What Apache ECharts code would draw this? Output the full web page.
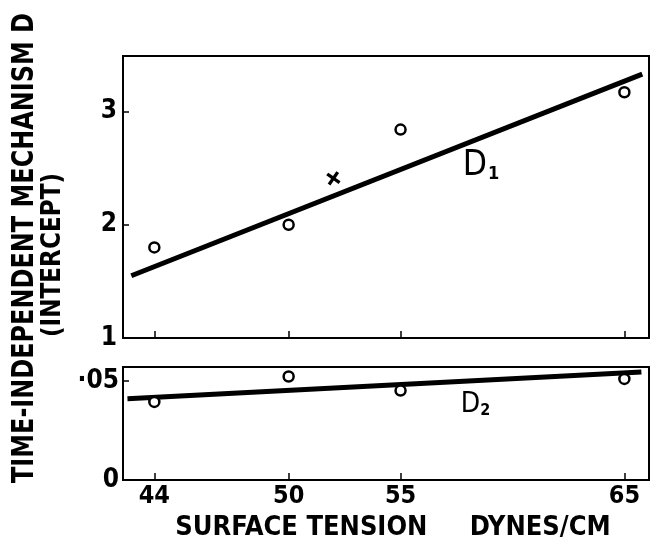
<!DOCTYPE html>
<html>
<head>
<meta charset="utf-8">
<script src="https://cdn.jsdelivr.net/npm/echarts@6/dist/echarts.min.js"></script>
<style>html,body{margin:0;padding:0;background:#fff}#c{width:652px;height:537px}</style>
</head>
<body>
<div id="c"></div>
<script>
// ---- data ----
const tension = [44, 50, 55, 65];              // surface tension, dynes/cm
const d1Points = [1.80, 2.00, 2.84, 3.17];      // D1 (circles)
const crossX = [52];                            // extra D1 point (x marker)
const crossY = [2.41];
const d1FitX = [42.97, 65.8];                   // fitted D1 line end points
const d1FitY = [1.55, 3.33];
const d2Points = [0.0394, 0.0522, 0.0451, 0.051]; // D2 (circles)
const d2FitX = [42.8, 65.76];
const d2FitY = [0.041, 0.0545];
const xTicks = [44, 50, 55, 65];
const xTickLabels = ['44', '50', '55', '65'];
const y1Ticks = [1, 2, 3];
const y1TickLabels = ['1', '2', '3'];
const y2Ticks = [0, 0.05];
const y2TickLabels = ['0', '\u00b705'];
const labelD1 = {x: 58.6, y: 2.52};
const labelD2 = {x: 58.35, y: 0.0379};
const yTitle = 'TIME-INDEPENDENT MECHANISM D';
const ySubTitle = '(INTERCEPT)';
const xTitle = 'SURFACE TENSION     DYNES/CM';

const FONT = '"DejaVu Sans Condensed","Liberation Sans Narrow","DejaVu Sans",sans-serif';
const chart = echarts.init(document.getElementById('c'), null, {renderer: 'canvas'});

function pairs(xs, ys) { return xs.map((x, i) => [x, ys[i]]); }
function labelFor(ticks, labels) {
  return v => { const i = ticks.findIndex(t => Math.abs(t - v) < 1e-9); return i >= 0 ? labels[i] : ''; };
}
function textWidth(txt, font) {
  const ctx = document.createElement('canvas').getContext('2d');
  ctx.font = font; return ctx.measureText(txt).width;
}
const titleFont = 'bold 31px ' + FONT;
const titleScale = 470 / textWidth(yTitle, titleFont);
const subFont = 'bold 26px ' + FONT;
const subScale = 164 / textWidth(ySubTitle, subFont);

const crossPath = 'path://M0,1.8 L1.8,0 L5,3.2 L8.2,0 L10,1.8 L6.8,5 L10,8.2 L8.2,10 L5,6.8 L1.8,10 L0,8.2 L3.2,5 Z';

const xCommon = {
  type: 'value', min: 42.6, max: 66.1,
  splitLine: {show: false},
  axisLine: {show: true, lineStyle: {color: '#000', width: 2}},
  axisTick: {show: true, inside: true, length: 7, customValues: xTicks, lineStyle: {color: '#000', width: 1.5}},
};
const yCommon = {
  type: 'value', splitLine: {show: false},
  axisLine: {show: true, lineStyle: {color: '#000', width: 2}},
};
const yLabelStyle = {color: '#000', fontFamily: FONT, fontWeight: 'bold', fontSize: 26, padding: [0, 0, 10, 0]};

chart.setOption({
  animation: false,
  backgroundColor: '#fff',
  grid: [
    {left: 123, right: 3, top: 56, height: 282, show: true, borderColor: '#000', borderWidth: 2,
      containLabel: false, outerBoundsMode: 'none'},
    {left: 123, right: 3, top: 367, height: 113, show: true, borderColor: '#000', borderWidth: 2,
      containLabel: false, outerBoundsMode: 'none'}
  ],
  xAxis: [
    Object.assign({}, xCommon, {gridIndex: 0, axisLabel: {show: false}}),
    Object.assign({}, xCommon, {
      gridIndex: 1,
      axisLabel: {show: true, customValues: xTicks, formatter: labelFor(xTicks, xTickLabels), margin: 4,
        color: '#000', fontFamily: FONT, fontWeight: 'bold', fontSize: 25},
      name: xTitle, nameLocation: 'middle', nameGap: 34,
      nameTextStyle: {color: '#000', fontFamily: FONT, fontWeight: 'bold', fontSize: 27, padding: [0, 0, 0, 14]}
    })
  ],
  yAxis: [
    Object.assign({}, yCommon, {
      gridIndex: 0, min: 1, max: 3.49,
      axisTick: {show: true, inside: true, length: 6, customValues: y1Ticks, lineStyle: {color: '#000', width: 1.5}},
      axisLabel: Object.assign({customValues: y1Ticks, formatter: labelFor(y1Ticks, y1TickLabels), margin: 6}, yLabelStyle)
    }),
    Object.assign({}, yCommon, {
      gridIndex: 1, min: 0, max: 0.057,
      axisTick: {show: true, inside: true, length: 6, customValues: y2Ticks, lineStyle: {color: '#000', width: 1.5}},
      axisLabel: Object.assign({customValues: y2Ticks, formatter: labelFor(y2Ticks, y2TickLabels), margin: 4}, yLabelStyle)
    })
  ],
  series: [
    {type: 'line', xAxisIndex: 0, yAxisIndex: 0, data: pairs(d1FitX, d1FitY), showSymbol: false,
      lineStyle: {color: '#000', width: 5}, z: 2},
    {type: 'scatter', xAxisIndex: 0, yAxisIndex: 0, data: pairs(tension, d1Points), symbol: 'circle', symbolSize: 10,
      itemStyle: {color: '#fff', borderColor: '#000', borderWidth: 2.5, opacity: 1}, z: 3},
    {type: 'scatter', xAxisIndex: 0, yAxisIndex: 0, data: pairs(crossX, crossY), symbol: crossPath, symbolSize: 13,
      symbolRotate: 10, itemStyle: {color: '#000', opacity: 1}, z: 3},
    {type: 'scatter', xAxisIndex: 0, yAxisIndex: 0, data: [[labelD1.x, labelD1.y]], symbolSize: 0, silent: true,
      itemStyle: {opacity: 1},
      label: {show: true, position: 'inside', color: '#000', formatter: '{a|D}{b|1}',
        rich: {a: {fontFamily: FONT, fontSize: 35, color: '#000', verticalAlign: 'bottom'},
               b: {fontFamily: FONT, fontSize: 18, fontWeight: 'bold', color: '#000', verticalAlign: 'bottom', padding: [0,0,0,1]}}}},
    {type: 'line', xAxisIndex: 1, yAxisIndex: 1, data: pairs(d2FitX, d2FitY), showSymbol: false,
      lineStyle: {color: '#000', width: 5}, z: 2},
    {type: 'scatter', xAxisIndex: 1, yAxisIndex: 1, data: pairs(tension, d2Points), symbol: 'circle', symbolSize: 10,
      itemStyle: {color: '#fff', borderColor: '#000', borderWidth: 2.5, opacity: 1}, z: 3},
    {type: 'scatter', xAxisIndex: 1, yAxisIndex: 1, data: [[labelD2.x, labelD2.y]], symbolSize: 0, silent: true,
      itemStyle: {opacity: 1},
      label: {show: true, position: 'inside', color: '#000', formatter: '{a|D}{b|2}',
        rich: {a: {fontFamily: FONT, fontSize: 28, color: '#000', verticalAlign: 'bottom'},
               b: {fontFamily: FONT, fontSize: 16, fontWeight: 'bold', color: '#000', verticalAlign: 'bottom'}}}}
  ],
  graphic: [
    {type: 'text', x: 25, y: 248, rotation: Math.PI / 2, scaleX: titleScale,
      style: {text: yTitle, fill: '#000', font: titleFont, align: 'center', verticalAlign: 'middle'}},
    {type: 'text', x: 53, y: 255, rotation: Math.PI / 2, scaleX: subScale,
      style: {text: ySubTitle, fill: '#000', font: subFont, align: 'center', verticalAlign: 'middle'}}
  ]
});
</script>
</body>
</html>
